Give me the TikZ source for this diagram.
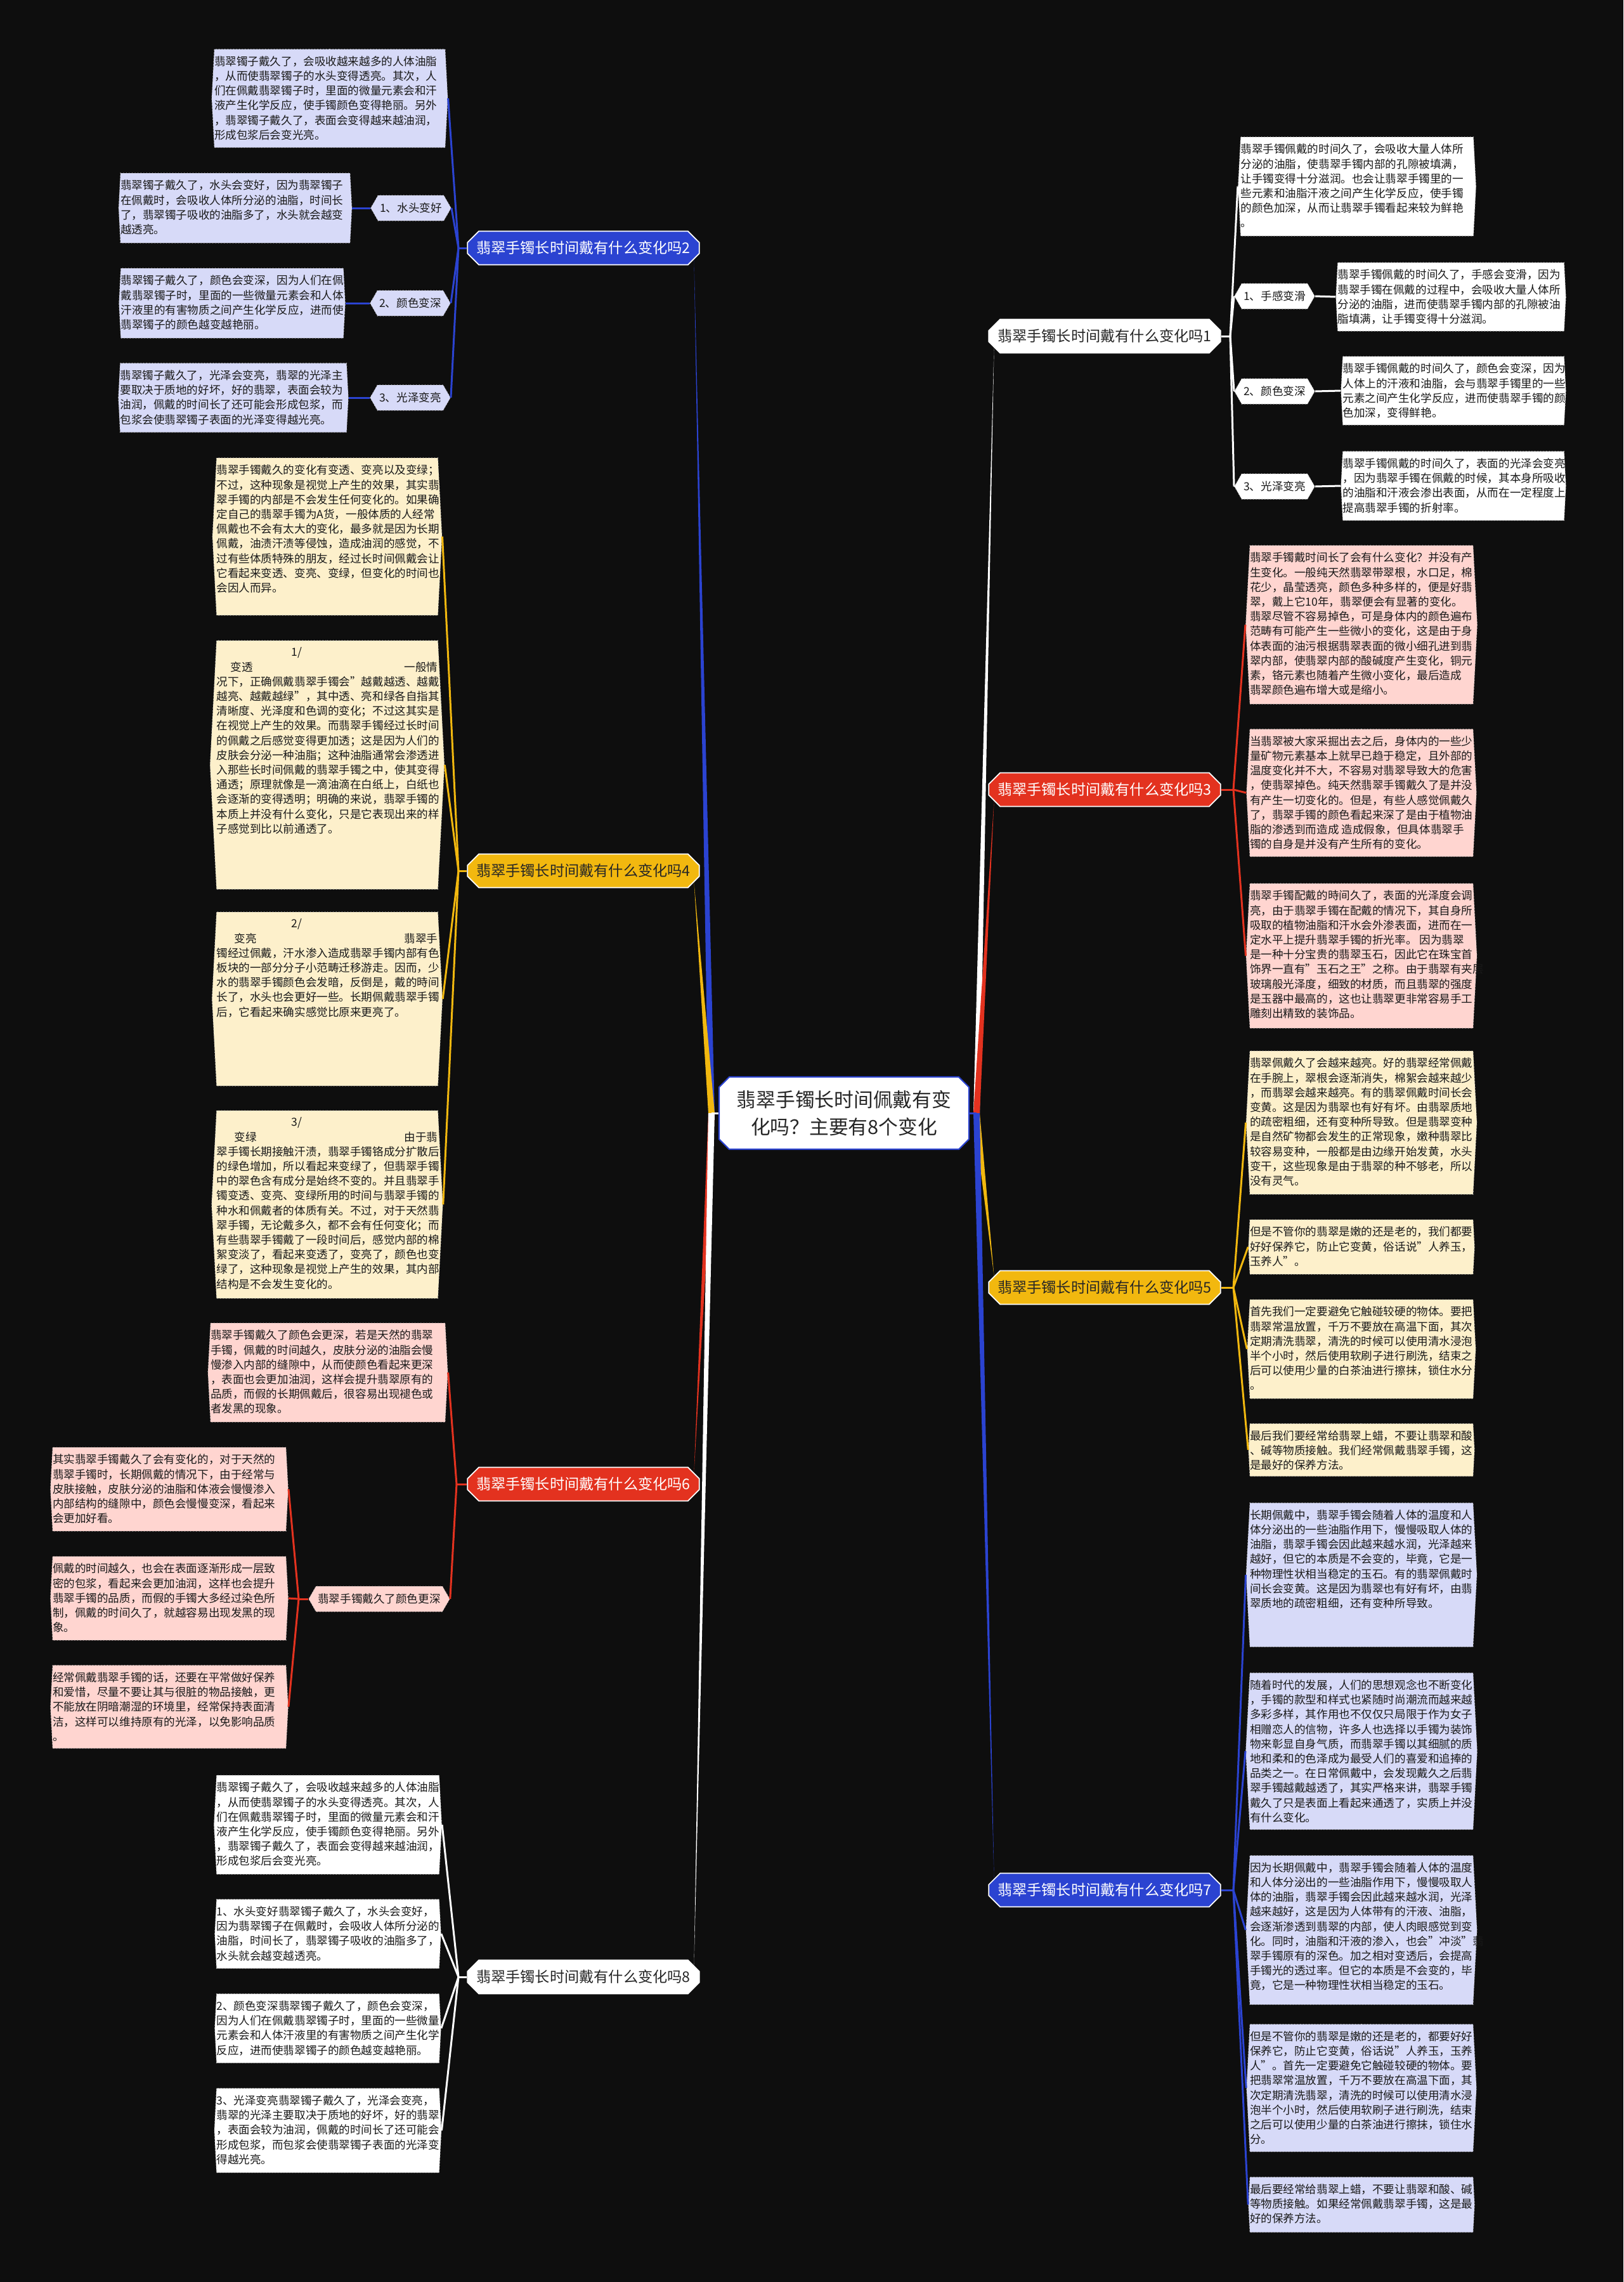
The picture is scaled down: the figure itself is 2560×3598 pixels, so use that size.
\documentclass[tikz,border=0pt]{standalone}
\usepackage{fontspec}
\setmainfont{Noto Sans CJK SC}
\usetikzlibrary{shapes.misc,shapes.symbols}
\definecolor{bgc}{HTML}{0E0E0E}
\definecolor{jblue}{HTML}{2B43D1}
\definecolor{jred}{HTML}{E3321F}
\definecolor{jyel}{HTML}{F2B80F}
\definecolor{lav}{HTML}{D7DAF8}
\definecolor{cream}{HTML}{FDF0CB}
\definecolor{pinkc}{HTML}{FFD5D0}
\newcommand{\leaffont}{\fontsize{5pt}{6.6pt}\selectfont}
\newcommand{\branchfont}{\fontsize{6.6pt}{8pt}\selectfont}
\newcommand{\leaftxt}[3]{\parbox[c][#2mm][t]{#1mm}{\raggedright #3}}

\begin{document}
\begin{tikzpicture}[
    x=0.1mm, y=-0.1mm,
    leaf/.style={signal, signal to=west and east, signal pointer angle=174,
      inner xsep=0pt, inner ysep=1.1mm, draw=white!75!black, densely dotted,
      line width=0.3pt, font=\leaffont, text=black!90},
    sub/.style={signal, signal to=west and east, signal pointer angle=120,
      inner xsep=0.3mm, inner ysep=0pt, minimum height=4mm, draw=white!75!black,
      densely dotted, line width=0.3pt, font=\leaffont, text=black!90},
    branch/.style={chamfered rectangle, chamfered rectangle xsep=0.9mm,
      chamfered rectangle ysep=0.9mm, minimum width=36.3mm, minimum height=5.3mm,
      inner sep=0.5mm, draw=white, line width=0.5pt, font=\branchfont},
    link/.style={line width=0.3mm}
  ]
  \useasboundingbox (0,0) rectangle (2560,3598);
  \fill[bgc] (0,0) rectangle (2560,3598);

  % root
  \node[chamfered rectangle, chamfered rectangle xsep=0.8mm, chamfered rectangle ysep=0.8mm,
    draw=jblue, line width=0.6pt, fill=white, minimum width=39.4mm, minimum height=11.4mm,
    align=center, font=\fontsize{8.75pt}{12.2pt}\selectfont, text=black!85] (root) at (1331,1755)
    {翡翠手镯长时间佩戴有变\\化吗？主要有8个变化};
  \coordinate (jl) at (1122,1755);
  \coordinate (jr) at (1540,1755);

  % branches
  \node[branch, fill=jblue, text=white] (b2) at (920,391) {翡翠手镯长时间戴有什么变化吗2};
  \node[branch, fill=jyel, text=black!85] (b4) at (920,1373) {翡翠手镯长时间戴有什么变化吗4};
  \node[branch, fill=jred, text=white] (b6) at (920,2340) {翡翠手镯长时间戴有什么变化吗6};
  \node[branch, fill=white, text=black!85] (b8) at (920,3117) {翡翠手镯长时间戴有什么变化吗8};
  \node[branch, fill=white, text=black!85] (b1) at (1742,530) {翡翠手镯长时间戴有什么变化吗1};
  \node[branch, fill=jred, text=white] (b3) at (1742,1245) {翡翠手镯长时间戴有什么变化吗3};
  \node[branch, fill=jyel, text=black!85] (b5) at (1742,2030) {翡翠手镯长时间戴有什么变化吗5};
  \node[branch, fill=jblue, text=white] (b7) at (1742,2980) {翡翠手镯长时间戴有什么变化吗7};

  \fill[jblue] (b2.south east) -- ([xshift=-0.5mm]jl) -- ([xshift=0.5mm]jl) -- cycle;
  \fill[jyel] (b4.south east) -- ([xshift=-0.5mm]jl) -- ([xshift=0.5mm]jl) -- cycle;
  \fill[jred] (b6.north east) -- ([xshift=-0.5mm]jl) -- ([xshift=0.5mm]jl) -- cycle;
  \fill[white] (b8.north east) -- ([xshift=-0.5mm]jl) -- ([xshift=0.5mm]jl) -- cycle;
  \fill[white] (b1.south west) -- ([xshift=-0.5mm]jr) -- ([xshift=0.5mm]jr) -- cycle;
  \fill[jred] (b3.south west) -- ([xshift=-0.5mm]jr) -- ([xshift=0.5mm]jr) -- cycle;
  \fill[jyel] (b5.north west) -- ([xshift=-0.5mm]jr) -- ([xshift=0.5mm]jr) -- cycle;
  \fill[jblue] (b7.north west) -- ([xshift=-0.5mm]jr) -- ([xshift=0.5mm]jr) -- cycle;
  \draw[link, white] (jl) -- (root.west);
  \draw[link, jblue] (root.east) -- (jr);

  % branch 2
  \node[leaf, fill=lav] (l2a) at (520,155) {\leaftxt{36.4}{13.3}{翡翠镯子戴久了，会吸收越来越多的人体油脂\\
，从而使翡翠镯子的水头变得透亮。其次，人\\
们在佩戴翡翠镯子时，里面的微量元素会和汗\\
液产生化学反应，使手镯颜色变得艳丽。另外\\
，翡翠镯子戴久了，表面会变得越来越油润，\\
形成包浆后会变光亮。}};
  \node[sub, fill=lav] (s2a) at (648,328) {1、水头变好};
  \node[sub, fill=lav] (s2b) at (647,478) {2、颜色变深};
  \node[sub, fill=lav] (s2c) at (647,627) {3、光泽变亮};
  \node[leaf, fill=lav] (l2b) at (371,328) {\leaftxt{36.2}{8.8}{翡翠镯子戴久了，水头会变好，因为翡翠镯子\\
在佩戴时，会吸收人体所分泌的油脂，时间长\\
了，翡翠镯子吸收的油脂多了，水头就会越变\\
越透亮。}};
  \node[leaf, fill=lav] (l2c) at (366,478) {\leaftxt{35.1}{8.8}{翡翠镯子戴久了，颜色会变深，因为人们在佩\\
戴翡翠镯子时，里面的一些微量元素会和人体\\
汗液里的有害物质之间产生化学反应，进而使\\
翡翠镯子的颜色越变越艳丽。}};
  \node[leaf, fill=lav] (l2d) at (368,627) {\leaftxt{35.7}{8.7}{翡翠镯子戴久了，光泽会变亮，翡翠的光泽主\\
要取决于质地的好坏，好的翡翠，表面会较为\\
油润，佩戴的时间长了还可能会形成包浆，而\\
包浆会使翡翠镯子表面的光泽变得越光亮。}};
  \coordinate (j2) at (723,391);
  \draw[link, jblue] (b2.west) -- (j2);
  \foreach \c in {l2a,s2a,s2b,s2c} \draw[link, jblue] (j2) -- (\c.east);
  \draw[link, jblue] (s2a.west) -- (l2b.east);
  \draw[link, jblue] (s2b.west) -- (l2c.east);
  \draw[link, jblue] (s2c.west) -- (l2d.east);

  % branch 4
  \node[leaf, fill=cream] (l4a) at (516,846) {\leaftxt{34.9}{22.6}{翡翠手镯戴久的变化有变透、变亮以及变绿；\\
不过，这种现象是视觉上产生的效果，其实翡\\
翠手镯的内部是不会发生任何变化的。如果确\\
定自己的翡翠手镯为A货，一般体质的人经常\\
佩戴也不会有太大的变化，最多就是因为长期\\
佩戴，油渍汗渍等侵蚀，造成油润的感觉，不\\
过有些体质特殊的朋友，经过长时间佩戴会让\\
它看起来变透、变亮、变绿，但变化的时间也\\
会因人而异。}};
  \node[leaf, fill=cream] (l4b) at (516,1206) {\leaftxt{34.9}{37.0}{\hspace*{11.8mm}1/\\
\hspace*{2.2mm}变透\hfill 一般情\\
况下，正确佩戴翡翠手镯会"越戴越透、越戴\\
越亮、越戴越绿"，其中透、亮和绿各自指其\\
清晰度、光泽度和色调的变化；不过这其实是\\
在视觉上产生的效果。而翡翠手镯经过长时间\\
的佩戴之后感觉变得更加透；这是因为人们的\\
皮肤会分泌一种油脂；这种油脂通常会渗透进\\
入那些长时间佩戴的翡翠手镯之中，使其变得\\
通透；原理就像是一滴油滴在白纸上，白纸也\\
会逐渐的变得透明；明确的来说，翡翠手镯的\\
本质上并没有什么变化，只是它表现出来的样\\
子感觉到比以前通透了。}};
  \node[leaf, fill=cream] (l4c) at (516,1575) {\leaftxt{34.9}{25.2}{\hspace*{11.8mm}2/\\
\hspace*{2.8mm}变亮\hfill 翡翠手\\
镯经过佩戴，汗水渗入造成翡翠手镯内部有色\\
板块的一部分分子小范畴迁移游走。因而，少\\
水的翡翠手镯颜色会发暗，反倒是，戴的時间\\
长了，水头也会更好一些。长期佩戴翡翠手镯\\
后，它看起来确实感觉比原来更亮了。}};
  \node[leaf, fill=cream] (l4d) at (516,1899) {\leaftxt{34.9}{27.4}{\hspace*{11.8mm}3/\\
\hspace*{2.8mm}变绿\hfill 由于翡\\
翠手镯长期接触汗渍，翡翠手镯铬成分扩散后\\
的绿色增加，所以看起来变绿了，但翡翠手镯\\
中的翠色含有成分是始终不变的。并且翡翠手\\
镯变透、变亮、变绿所用的时间与翡翠手镯的\\
种水和佩戴者的体质有关。不过，对于天然翡\\
翠手镯，无论戴多久，都不会有任何变化；而\\
有些翡翠手镯戴了一段时间后，感觉内部的棉\\
絮变淡了，看起来变透了，变亮了，颜色也变\\
绿了，这种现象是视觉上产生的效果，其内部\\
结构是不会发生变化的。}};
  \coordinate (j4) at (723,1373);
  \draw[link, jyel] (b4.west) -- (j4);
  \foreach \c in {l4a,l4b,l4c,l4d} \draw[link, jyel] (j4) -- (\c.east);

  % branch 6
  \node[leaf, fill=pinkc] (l6a) at (517,2164) {\leaftxt{37.0}{13.4}{翡翠手镯戴久了颜色会更深，若是天然的翡翠\\
手镯，佩戴的时间越久，皮肤分泌的油脂会慢\\
慢渗入内部的缝隙中，从而使颜色看起来更深\\
，表面也会更加油润，这样会提升翡翠原有的\\
品质，而假的长期佩戴后，很容易出现褪色或\\
者发黑的现象。}};
  \node[sub, fill=pinkc] (s6) at (598,2521) {翡翠手镯戴久了颜色更深};
  \node[leaf, fill=pinkc] (l6b) at (267,2348) {\leaftxt{36.8}{11.0}{其实翡翠手镯戴久了会有变化的，对于天然的\\
翡翠手镯时，长期佩戴的情况下，由于经常与\\
皮肤接触，皮肤分泌的油脂和体液会慢慢渗入\\
内部结构的缝隙中，颜色会慢慢变深，看起来\\
会更加好看。}};
  \node[leaf, fill=pinkc] (l6c) at (267,2520) {\leaftxt{36.8}{11.0}{佩戴的时间越久，也会在表面逐渐形成一层致\\
密的包浆，看起来会更加油润，这样也会提升\\
翡翠手镯的品质，而假的手镯大多经过染色所\\
制，佩戴的时间久了，就越容易出现发黑的现\\
象。}};
  \node[leaf, fill=pinkc] (l6d) at (267,2691) {\leaftxt{36.8}{10.9}{经常佩戴翡翠手镯的话，还要在平常做好保养\\
和爱惜，尽量不要让其与很脏的物品接触，更\\
不能放在阴暗潮湿的环境里，经常保持表面清\\
洁，这样可以维持原有的光泽，以免影响品质\\
。}};
  \coordinate (j6) at (720,2340);
  \coordinate (j6s) at (471,2521);
  \draw[link, jred] (b6.west) -- (j6);
  \foreach \c in {l6a,s6} \draw[link, jred] (j6) -- (\c.east);
  \draw[link, jred] (s6.west) -- (j6s);
  \foreach \c in {l6b,l6c,l6d} \draw[link, jred] (j6s) -- (\c.east);

  % branch 8
  \node[leaf, fill=white] (l8a) at (517,2877) {\leaftxt{35.1}{13.4}{翡翠镯子戴久了，会吸收越来越多的人体油脂\\
，从而使翡翠镯子的水头变得透亮。其次，人\\
们在佩戴翡翠镯子时，里面的微量元素会和汗\\
液产生化学反应，使手镯颜色变得艳丽。另外\\
，翡翠镯子戴久了，表面会变得越来越油润，\\
形成包浆后会变光亮。}};
  \node[leaf, fill=white] (l8b) at (517,3049) {\leaftxt{35.1}{8.7}{1、水头变好翡翠镯子戴久了，水头会变好，\\
因为翡翠镯子在佩戴时，会吸收人体所分泌的\\
油脂，时间长了，翡翠镯子吸收的油脂多了，\\
水头就会越变越透亮。}};
  \node[leaf, fill=white] (l8c) at (517,3198) {\leaftxt{35.1}{8.7}{2、颜色变深翡翠镯子戴久了，颜色会变深，\\
因为人们在佩戴翡翠镯子时，里面的一些微量\\
元素会和人体汗液里的有害物质之间产生化学\\
反应，进而使翡翠镯子的颜色越变越艳丽。}};
  \node[leaf, fill=white] (l8d) at (517,3359) {\leaftxt{35.1}{11.1}{3、光泽变亮翡翠镯子戴久了，光泽会变亮，\\
翡翠的光泽主要取决于质地的好坏，好的翡翠\\
，表面会较为油润，佩戴的时间长了还可能会\\
形成包浆，而包浆会使翡翠镯子表面的光泽变\\
得越光亮。}};
  \coordinate (j8) at (723,3117);
  \draw[link, white] (b8.west) -- (j8);
  \foreach \c in {l8a,l8b,l8c,l8d} \draw[link, white] (j8) -- (\c.east);

  % branch 1
  \node[leaf, fill=white] (l1a) at (2140,294) {\leaftxt{36.7}{13.4}{翡翠手镯佩戴的时间久了，会吸收大量人体所\\
分泌的油脂，使翡翠手镯内部的孔隙被填满，\\
让手镯变得十分滋润。也会让翡翠手镯里的一\\
些元素和油脂汗液之间产生化学反应，使手镯\\
的颜色加深，从而让翡翠手镯看起来较为鲜艳\\
。}};
  \node[sub, fill=white] (s1a) at (2010,467) {1、手感变滑};
  \node[sub, fill=white] (s1b) at (2010,617) {2、颜色变深};
  \node[sub, fill=white] (s1c) at (2010,767) {3、光泽变亮};
  \node[leaf, fill=white] (l1b) at (2288,468) {\leaftxt{35.7}{8.6}{翡翠手镯佩戴的时间久了，手感会变滑，因为\\
翡翠手镯在佩戴的过程中，会吸收大量人体所\\
分泌的油脂，进而使翡翠手镯内部的孔隙被油\\
脂填满，让手镯变得十分滋润。}};
  \node[leaf, fill=white] (l1c) at (2292,616) {\leaftxt{34.9}{8.6}{翡翠手镯佩戴的时间久了，颜色会变深，因为\\
人体上的汗液和油脂，会与翡翠手镯里的一些\\
元素之间产生化学反应，进而使翡翠手镯的颜\\
色加深，变得鲜艳。}};
  \node[leaf, fill=white] (l1d) at (2292,766) {\leaftxt{34.9}{8.7}{翡翠手镯佩戴的时间久了，表面的光泽会变亮\\
，因为翡翠手镯在佩戴的时候，其本身所吸收\\
的油脂和汗液会渗出表面，从而在一定程度上\\
提高翡翠手镯的折射率。}};
  \coordinate (j1) at (1940,530);
  \draw[link, white] (b1.east) -- (j1);
  \foreach \c in {l1a,s1a,s1b,s1c} \draw[link, white] (j1) -- (\c.west);
  \draw[link, white] (s1a.east) -- (l1b.west);
  \draw[link, white] (s1b.east) -- (l1c.west);
  \draw[link, white] (s1c.east) -- (l1d.west);

  % branch 3
  \node[leaf, fill=pinkc] (l3a) at (2147,985) {\leaftxt{35.2}{22.8}{翡翠手镯戴时间长了会有什么变化？并没有产\\
生变化。一般纯天然翡翠带翠根，水口足，棉\\
花少，晶莹透亮，颜色多种多样的，便是好翡\\
翠，戴上它10年，翡翠便会有显著的变化。\\
翡翠尽管不容易掉色，可是身体内的颜色遍布\\
范畴有可能产生一些微小的变化，这是由于身\\
体表面的油污根据翡翠表面的微小细孔进到翡\\
翠内部，使翡翠内部的酸碱度产生变化，铜元\\
素，铬元素也随着产生微小变化，最后造成\\
翡翠颜色遍布增大或是缩小。}};
  \node[leaf, fill=pinkc] (l3b) at (2147,1250) {\leaftxt{35.2}{17.9}{当翡翠被大家采掘出去之后，身体内的一些少\\
量矿物元素基本上就早已趋于稳定，且外部的\\
温度变化并不大，不容易对翡翠导致大的危害\\
，使翡翠掉色。纯天然翡翠手镯戴久了是并没\\
有产生一切变化的。但是，有些人感觉佩戴久\\
了，翡翠手镯的颜色看起来深了是由于植物油\\
脂的渗透到而造成~造成假象，但具体翡翠手\\
镯的自身是并没有产生所有的变化。}};
  \node[leaf, fill=pinkc] (l3c) at (2147,1507) {\leaftxt{35.2}{20.6}{翡翠手镯配戴的時间久了，表面的光泽度会调\\
亮，由于翡翠手镯在配戴的情况下，其自身所\\
吸取的植物油脂和汗水会外渗表面，进而在一\\
定水平上提升翡翠手镯的折光率。~因为翡翠\\
是一种十分宝贵的翡翠玉石，因此它在珠宝首\\
饰界一直有"玉石之王"之称。由于翡翠有夹层\\
玻璃般光泽度，细致的材质，而且翡翠的强度\\
是玉器中最高的，这也让翡翠更非常容易手工\\
雕刻出精致的装饰品。}};
  \coordinate (j3) at (1945,1245);
  \draw[link, jred] (b3.east) -- (j3);
  \foreach \c in {l3a,l3b,l3c} \draw[link, jred] (j3) -- (\c.west);

  % branch 5
  \node[leaf, fill=cream] (l5a) at (2147,1770) {\leaftxt{35.2}{20.4}{翡翠佩戴久了会越来越亮。好的翡翠经常佩戴\\
在手腕上，翠根会逐渐消失，棉絮会越来越少\\
，而翡翠会越来越亮。有的翡翠佩戴时间长会\\
变黄。这是因为翡翠也有好有坏。由翡翠质地\\
的疏密粗细，还有变种所导致。但是翡翠变种\\
是自然矿物都会发生的正常现象，嫩种翡翠比\\
较容易变种，一般都是由边缘开始发黄，水头\\
变干，这些现象是由于翡翠的种不够老，所以\\
没有灵气。}};
  \node[leaf, fill=cream] (l5b) at (2147,1966) {\leaftxt{35.2}{6.4}{但是不管你的翡翠是嫩的还是老的，我们都要\\
好好保养它，防止它变黄，俗话说"人养玉，\\
玉养人"。}};
  \node[leaf, fill=cream] (l5c) at (2147,2127) {\leaftxt{35.2}{13.4}{首先我们一定要避免它触碰较硬的物体。要把\\
翡翠常温放置，千万不要放在高温下面，其次\\
定期清洗翡翠，清洗的时候可以使用清水浸泡\\
半个小时，然后使用软刷子进行刷洗，结束之\\
后可以使用少量的白茶油进行擦抹，锁住水分\\
。}};
  \node[leaf, fill=cream] (l5d) at (2147,2286) {\leaftxt{35.2}{6.1}{最后我们要经常给翡翠上蜡，不要让翡翠和酸\\
、碱等物质接触。我们经常佩戴翡翠手镯，这\\
是最好的保养方法。}};
  \coordinate (j5) at (1945,2030);
  \draw[link, jyel] (b5.east) -- (j5);
  \foreach \c in {l5a,l5b,l5c,l5d} \draw[link, jyel] (j5) -- (\c.west);

  % branch 7
  \node[leaf, fill=lav] (l7a) at (2147,2483) {\leaftxt{35.2}{20.5}{长期佩戴中，翡翠手镯会随着人体的温度和人\\
体分泌出的一些油脂作用下，慢慢吸取人体的\\
油脂，翡翠手镯会因此越来越水润，光泽越来\\
越好，但它的本质是不会变的，毕竟，它是一\\
种物理性状相当稳定的玉石。有的翡翠佩戴时\\
间长会变黄。这是因为翡翠也有好有坏，由翡\\
翠质地的疏密粗细，还有变种所导致。}};
  \node[leaf, fill=lav] (l7b) at (2147,2761) {\leaftxt{35.2}{22.5}{随着时代的发展，人们的思想观念也不断变化\\
，手镯的款型和样式也紧随时尚潮流而越来越\\
多彩多样，其作用也不仅仅只局限于作为女子\\
相赠恋人的信物，许多人也选择以手镯为装饰\\
物来彰显自身气质，而翡翠手镯以其细腻的质\\
地和柔和的色泽成为最受人们的喜爱和追捧的\\
品类之一。在日常佩戴中，会发现戴久之后翡\\
翠手镯越戴越透了，其实严格来讲，翡翠手镯\\
戴久了只是表面上看起来通透了，实质上并没\\
有什么变化。}};
  \node[leaf, fill=lav] (l7c) at (2147,3043) {\leaftxt{35.2}{21.3}{因为长期佩戴中，翡翠手镯会随着人体的温度\\
和人体分泌出的一些油脂作用下，慢慢吸取人\\
体的油脂，翡翠手镯会因此越来越水润，光泽\\
越来越好，这是因为人体带有的汗液、油脂，\\
会逐渐渗透到翡翠的内部，使人肉眼感觉到变\\
化。同时，油脂和汗液的渗入，也会"冲淡"翡\\
翠手镯原有的深色。加之相对变透后，会提高\\
手镯光的透过率。但它的本质是不会变的，毕\\
竟，它是一种物理性状相当稳定的玉石。}};
  \node[leaf, fill=lav] (l7d) at (2147,3292) {\leaftxt{35.2}{17.9}{但是不管你的翡翠是嫩的还是老的，都要好好\\
保养它，防止它变黄，俗话说"人养玉，玉养\\
人"。首先一定要避免它触碰较硬的物体。要\\
把翡翠常温放置，千万不要放在高温下面，其\\
次定期清洗翡翠，清洗的时候可以使用清水浸\\
泡半个小时，然后使用软刷子进行刷洗，结束\\
之后可以使用少量的白茶油进行擦抹，锁住水\\
分。}};
  \node[leaf, fill=lav] (l7e) at (2147,3476) {\leaftxt{35.2}{6.5}{最后要经常给翡翠上蜡，不要让翡翠和酸、碱\\
等物质接触。如果经常佩戴翡翠手镯，这是最\\
好的保养方法。}};
  \coordinate (j7) at (1945,2980);
  \draw[link, jblue] (b7.east) -- (j7);
  \foreach \c in {l7a,l7b,l7c,l7d,l7e} \draw[link, jblue] (j7) -- (\c.west);
\end{tikzpicture}
\end{document}
